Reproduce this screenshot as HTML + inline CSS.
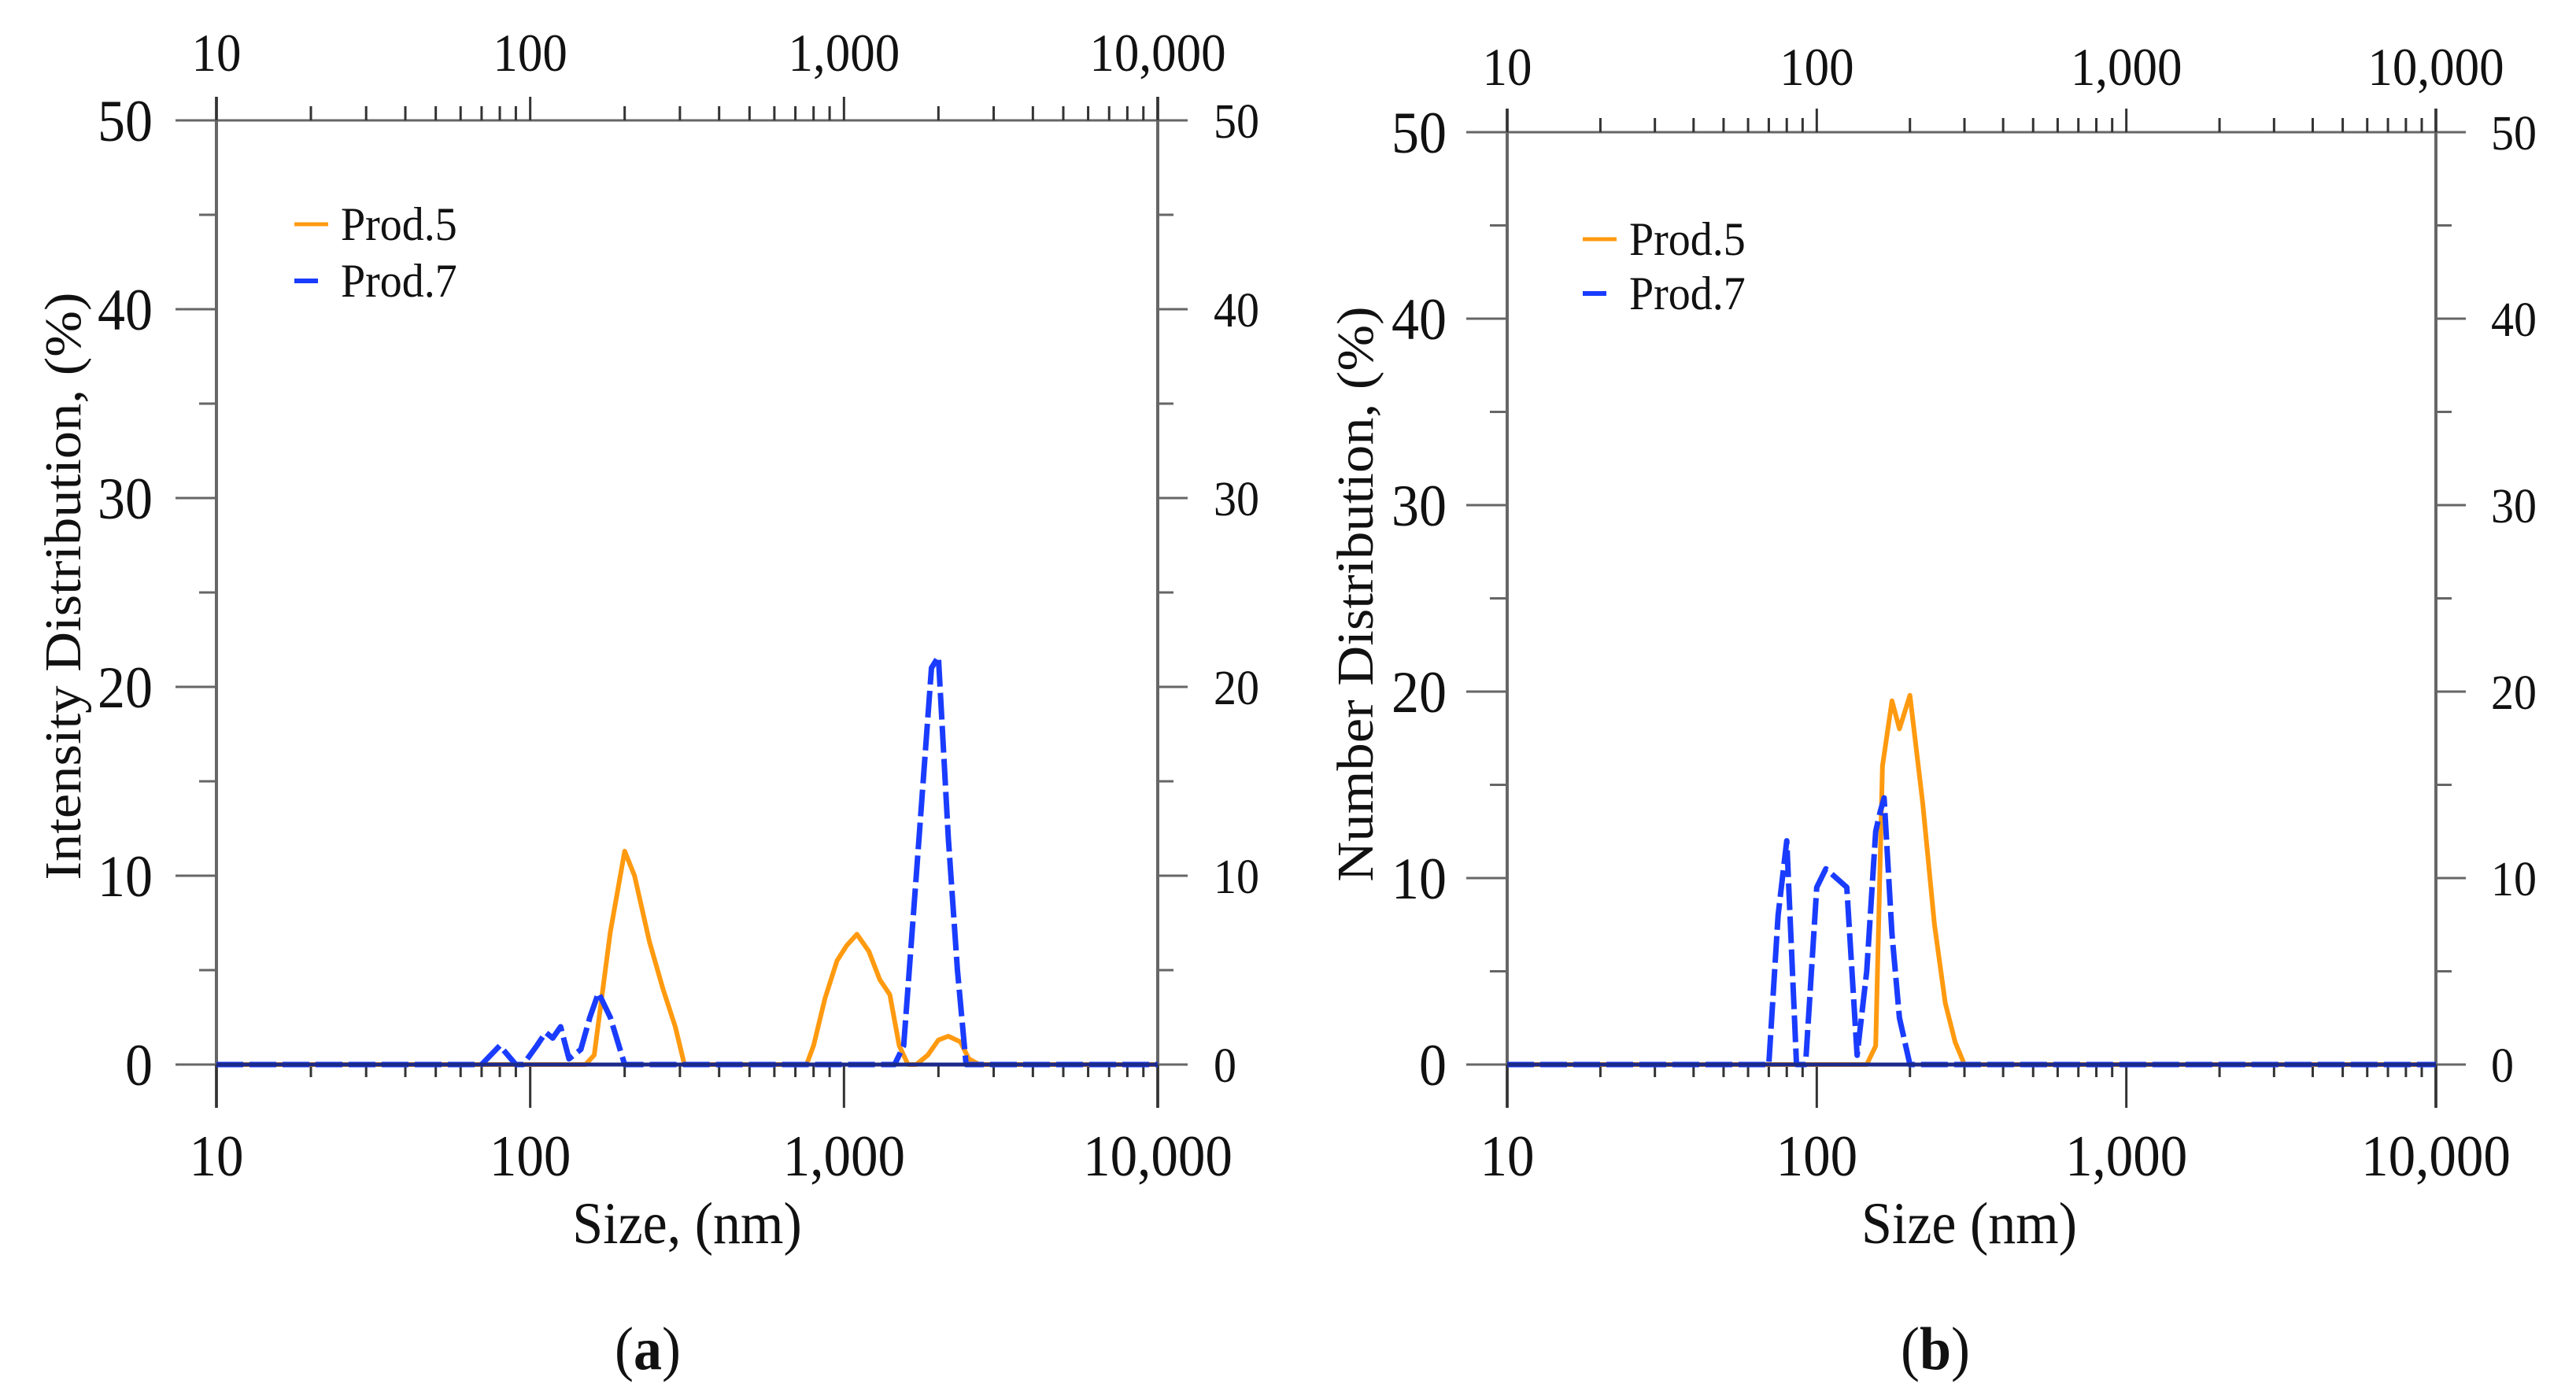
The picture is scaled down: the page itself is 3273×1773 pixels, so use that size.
<!DOCTYPE html>
<html><head><meta charset="utf-8"><style>
html,body{margin:0;padding:0;background:#fff;}
svg{display:block;}
text{font-family:"Liberation Serif",serif;fill:#111;}
</style></head><body>
<svg id="fig" width="3273" height="1773" viewBox="0 0 3273 1773" xmlns="http://www.w3.org/2000/svg"></svg>
<script>
// Panel (a) data: Intensity distribution
const aProd5X = [10,150,160,180,200,215,240,265,290,310,760,800,870,950,1020,1100,1200,1300,1400,1500,1600,1700,1850,2000,2150,2350,2500,2700,10000];
const aProd5Y = [0,0,0.5,7,11.3,10,6.5,4,2,0,0,1,3.5,5.5,6.3,6.9,6,4.5,3.7,1,0,0,0.5,1.3,1.5,1.2,0.3,0,0];
const aProd7X = [10,70,80,90,95,105,112,118,125,133,145,155,165,180,200,1450,1550,1700,1900,2000,2150,2300,2450,10000];
const aProd7Y = [0,0,1,0,0,1,1.7,1.4,2,0.3,0.8,2.5,3.8,2.5,0,0,1,10,21,21.6,12,5,0,0];
// Panel (b) data: Number distribution
const bProd5X = [10,145,155,163,175,185,200,220,240,260,280,300,10000];
const bProd5Y = [0,0,1,16,19.5,18,19.8,14,7.5,3.3,1.2,0,0];
const bProd7X = [10,70,75,80,86,92,100,107,125,135,145,155,160,165,175,185,200,10000];
const bProd7Y = [0,0,8,12,0,0,9.5,10.5,9.5,0.5,5,12.5,13.5,14.3,7,2.5,0,0];
const yTicks = [0,10,20,30,40,50];
const xTickLabels = ["10","100","1,000","10,000"];
const xDecades = [10,100,1000,10000];

const NS="http://www.w3.org/2000/svg";
const svg=document.getElementById('fig');
function mk(tag,attrs,parent){const e=document.createElementNS(NS,tag);for(const k in attrs)e.setAttribute(k,attrs[k]);(parent||svg).appendChild(e);return e;}
function txt(parent,x,y,size,anchor,str,extra){
  const t=mk('text',{x:0,y:0,'font-size':size,'text-anchor':anchor,transform:'translate('+x+','+y+') '+(extra||'scale(1,1.08)')},parent);
  t.textContent=str;return t;
}

const panels=[
 {key:'a',L:275,R:1471,T:153,B:1353,topLab:68,yLabL:194,yLabR:1542,yTitle:'Intensity Distribution, (%)',yTx:80,yTy:745,xTitle:'Size, (nm)',xTx:873,cap:'a',capX:823,legX:374,legY1:285,legY2:357,
  s5x:aProd5X,s5y:aProd5Y,s7x:aProd7X,s7y:aProd7Y},
 {key:'b',L:1915,R:3095,T:168,B:1353,topLab:86,yLabL:1838,yLabR:3165,yTitle:'Number Distribution, (%)',yTx:1722,yTy:755,xTitle:'Size (nm)',xTx:2502,cap:'b',capX:2459,legX:2011,legY1:304,legY2:373,
  s5x:bProd5X,s5y:bProd5Y,s7x:bProd7X,s7y:bProd7Y}
];

panels.forEach(p=>{
  const g=mk('g',{});
  
  
  const xs=v=>p.L+(Math.log10(v)-1)/3*(p.R-p.L);
  const ys=v=>p.B-v/50*(p.B-p.T);
  const ax='#666';
  mk('line',{x1:p.L-52,y1:p.T,x2:p.R+38,y2:p.T,stroke:ax,'stroke-width':3},g);
  mk('line',{x1:p.L-52,y1:p.B,x2:p.R+38,y2:p.B,stroke:ax,'stroke-width':3},g);
  mk('line',{x1:p.L,y1:p.T-30,x2:p.L,y2:p.B+55,stroke:ax,'stroke-width':4},g);
  mk('line',{x1:p.R,y1:p.T-30,x2:p.R,y2:p.B+55,stroke:ax,'stroke-width':4},g);
  for(let v=0;v<=50;v+=5){
    const y=ys(v), major=v%10===0;
    mk('line',{x1:p.L-(major?52:22),y1:y,x2:p.L,y2:y,stroke:ax,'stroke-width':3},g);
    mk('line',{x1:p.R,y1:y,x2:p.R+(major?38:20),y2:y,stroke:ax,'stroke-width':3},g);
  }
  yTicks.forEach(v=>{
    const t=txt(g,p.yLabL,ys(v)+26,70,'end',String(v));
    
    const t2=txt(g,p.yLabR,ys(v)+22,58,'start',String(v));
    
  });
  for(let d=10;d<10000;d*=10){
    for(let m=2;m<=9;m++){
      const x=xs(d*m);
      mk('line',{x1:x,y1:p.T-18,x2:x,y2:p.T,stroke:'#333','stroke-width':3},g);
      mk('line',{x1:x,y1:p.B,x2:x,y2:p.B+16,stroke:'#333','stroke-width':3},g);
    }
  }
  xDecades.forEach((d,i)=>{
    const x=xs(d);
    mk('line',{x1:x,y1:p.T-30,x2:x,y2:p.T,stroke:'#333','stroke-width':3},g);
    mk('line',{x1:x,y1:p.B,x2:x,y2:p.B+55,stroke:'#333','stroke-width':3},g);
    const t=txt(g,x,p.topLab+22,63,'middle',xTickLabels[i]);
    
    const b=txt(g,x,1494,69,'middle',xTickLabels[i]);
    
  });
  const path=(X,Y)=>X.map((v,i)=>(i?'L':'M')+xs(v).toFixed(1)+','+ys(Y[i]).toFixed(1)).join(' ');
  const p5=mk('path',{d:path(p.s5x,p.s5y),fill:'none',stroke:'#ff9a10','stroke-width':6,'stroke-linejoin':'round'},g);
  
  
  const p7=mk('path',{d:path(p.s7x,p.s7y),fill:'none',stroke:'#1a3cff','stroke-width':7,'stroke-dasharray':'34,8','stroke-linejoin':'round'},g);
  
  
  mk('line',{x1:p.L,y1:p.B,x2:p.R,y2:p.B,stroke:'#1b2a8a','stroke-width':5},g);
  mk('line',{x1:p.legX,y1:p.legY1,x2:p.legX+43,y2:p.legY1,stroke:'#ff9a10','stroke-width':5},g);
  let t=txt(g,p.legX+59,p.legY1+20,56,'start','Prod.5');
  
  mk('line',{x1:p.legX,y1:p.legY2,x2:p.legX+30,y2:p.legY2,stroke:'#1a3cff','stroke-width':6},g);
  t=txt(g,p.legX+59,p.legY2+20,56,'start','Prod.7');
  
  t=mk('text',{x:0,y:22,'font-size':66,'text-anchor':'middle',transform:'translate('+p.yTx+','+p.yTy+') rotate(-90) scale(1.07,1)'},g);t.textContent=p.yTitle;
  
  t=txt(g,p.xTx,1580,70,'middle',p.xTitle);
  
  t=mk('text',{x:0,y:0,'font-size':72,'text-anchor':'middle',transform:'translate('+p.capX+',1740) scale(1,1.08)'},g);
  t.innerHTML='(<tspan font-weight="bold">'+p.cap+'</tspan>)';
  
});
</script>
</body></html>
